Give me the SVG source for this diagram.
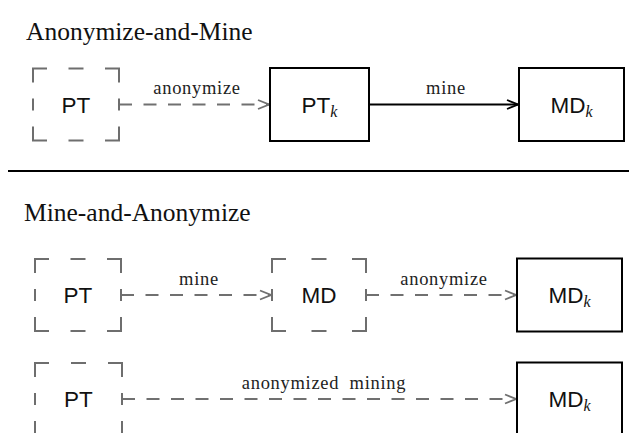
<svg xmlns="http://www.w3.org/2000/svg" width="629" height="433" viewBox="0 0 629 433">
  <style>
    .title { font-family: "Liberation Serif", "Times New Roman", serif; font-size: 25.5px; fill: #111; }
    .lbl { font-family: "Liberation Serif", "Times New Roman", serif; font-size: 18.5px; letter-spacing: 0.7px; fill: #222; text-anchor: middle; }
    .node { font-family: "Liberation Sans", Arial, sans-serif; font-size: 22.5px; fill: #111; text-anchor: middle; }
    .sub { font-family: "Liberation Serif", "Times New Roman", serif; font-style: italic; font-size: 16px; }
    .dbox { fill: none; stroke: #6e6e6e; stroke-width: 2; stroke-linecap: butt; }
    .sbox { fill: #fff; stroke: #000; stroke-width: 2; }
    .dline { fill: none; stroke: #707070; stroke-width: 2; stroke-dasharray: 13 11.5; }
    .sline { fill: none; stroke: #000; stroke-width: 2; }
    .rule { stroke: #000; stroke-width: 2.2; }
  </style>
  <defs>
    <marker id="headGray" markerUnits="userSpaceOnUse" markerWidth="14" markerHeight="12" refX="12" refY="6" orient="auto" viewBox="0 0 14 12">
      <path d="M 1 1.5 L 12 6 L 1 10.5" fill="none" stroke="#707070" stroke-width="1.8"/>
    </marker>
    <marker id="headBlack" markerUnits="userSpaceOnUse" markerWidth="14" markerHeight="12" refX="12" refY="6" orient="auto" viewBox="0 0 14 12">
      <path d="M 1 1.5 L 12 6 L 1 10.5" fill="none" stroke="#000" stroke-width="1.8"/>
    </marker>
  </defs>

  <rect width="629" height="433" fill="#fff"/>

  <!-- section headings and separator -->
  <text class="title" x="26" y="40">Anonymize-and-Mine</text>
  <line class="rule" x1="8" y1="171" x2="629" y2="171"/>
  <text class="title" x="24" y="221">Mine-and-Anonymize</text>

  <!-- connectors -->
  <g id="connectors">
    <line class="dline" x1="119" y1="104.5" x2="269" y2="104.5" marker-end="url(#headGray)"/>
    <text class="lbl" x="197" y="93.5">anonymize</text>

    <line class="sline" x1="370" y1="104.5" x2="518" y2="104.5" marker-end="url(#headBlack)"/>
    <text class="lbl" x="446" y="93.5">mine</text>

    <line class="dline" x1="121" y1="295" x2="271" y2="295" marker-end="url(#headGray)"/>
    <text class="lbl" x="199" y="285">mine</text>

    <line class="dline" x1="366" y1="295" x2="516" y2="295" marker-end="url(#headGray)"/>
    <text class="lbl" x="444" y="285">anonymize</text>

    <line class="dline" x1="122" y1="399" x2="516" y2="399" marker-end="url(#headGray)"/>
    <text class="lbl" x="324" y="389" word-spacing="5">anonymized mining</text>
  </g>

  <!-- row 1 -->
  <g id="pt1">
    <path class="dbox" d="M33 82.5 V68.5 H47 M68.5 68.5 H83.5 M105 68.5 H119 V82.5 M119 98.5 V110.5 M119 126.5 V140.5 H105 M83.5 140.5 H68.5 M47 140.5 H33 V126.5 M33 110.5 V98.5"/>
    <text class="node" x="76" y="112.5">PT</text>
  </g>
  <g id="ptk1">
    <rect class="sbox" x="270" y="68" width="99" height="73"/>
    <text class="node" x="319.5" y="112.5">PT<tspan class="sub" dy="4">k</tspan></text>
  </g>
  <g id="mdk1">
    <rect class="sbox" x="519" y="68" width="105" height="73"/>
    <text class="node" x="571.5" y="112.5">MD<tspan class="sub" dy="4">k</tspan></text>
  </g>

  <!-- row 2 -->
  <g id="pt2">
    <path class="dbox" d="M35 273 V259 H49 M70.5 259 H85.5 M107 259 H121 V273 M121 289 V301 M121 317 V331 H107 M85.5 331 H70.5 M49 331 H35 V317 M35 301 V289"/>
    <text class="node" x="78" y="303">PT</text>
  </g>
  <g id="md2">
    <path class="dbox" d="M272 273 V259 H286 M311.5 259 H326.5 M352 259 H366 V273 M366 289 V301 M366 317 V331 H352 M326.5 331 H311.5 M286 331 H272 V317 M272 301 V289"/>
    <text class="node" x="319" y="303">MD</text>
  </g>
  <g id="mdk2">
    <rect class="sbox" x="517" y="258.5" width="105" height="73"/>
    <text class="node" x="569.5" y="303">MD<tspan class="sub" dy="4">k</tspan></text>
  </g>

  <!-- row 3 -->
  <g id="pt3">
    <path class="dbox" d="M35 377 V363 H49 M71 363 H86 M108 363 H122 V377 M122 393 V405 M122 421 V435 H108 M86 435 H71 M49 435 H35 V421 M35 405 V393"/>
    <text class="node" x="78.5" y="407">PT</text>
  </g>
  <g id="mdk3">
    <rect class="sbox" x="517" y="362.5" width="105" height="73"/>
    <text class="node" x="569.5" y="407">MD<tspan class="sub" dy="4">k</tspan></text>
  </g>
</svg>
